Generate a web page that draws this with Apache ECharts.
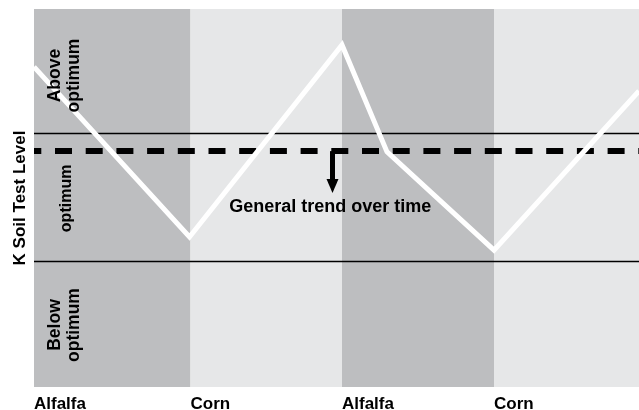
<!DOCTYPE html>
<html><head><meta charset="utf-8">
<script src="https://cdn.jsdelivr.net/npm/echarts@6/dist/echarts.min.js"></script>
<style>html,body{margin:0;padding:0;background:#fff}#c{width:639px;height:410px}</style>
</head><body><div id="c"></div>
<script>
// ---- data ----
const crops = ['Alfalfa', 'Corn', 'Alfalfa', 'Corn'];
const bandEdges = [0, 156.5, 308, 460, 605];          // time units
const trendTime = [0, 155.5, 308, 353, 460, 605];
const trendLevel = [84.7, 39.7, 90.5, 62.2, 36.2, 78.3];
const optimumLimits = [33.2, 67];
const generalTrendLevel = 62.4;
const arrowTime = 298.5;
const arrowEndLevel = 53.2;
const zoneNames = ['Above\noptimum', 'optimum', 'Below\noptimum'];
const trendText = 'General trend over time';
const yTitle = 'K Soil Test Level';

const FONT = '"Liberation Sans", Arial, Helvetica, sans-serif';
const bandColors = ['#bdbec0', '#e6e7e8'];

const chart = echarts.init(document.getElementById('c'), null, {renderer: 'canvas'});

const bandAreas = crops.map((c, i) => [
  {xAxis: bandEdges[i], yAxis: 0, itemStyle: {color: bandColors[i % 2]}},
  {xAxis: bandEdges[i + 1], yAxis: 100}
]);

const zonePos = [[31, 82.4, 17.5], [32.5, 49.9, 16], [31, 16.4, 17.5]];

const option = {
  animation: false,
  backgroundColor: '#fff',
  grid: {left: 34, right: 0, top: 9, bottom: 23, containLabel: false, outerBoundsMode: 'none'},
  xAxis: {
    type: 'value', min: 0, max: 605,
    axisLine: {show: false}, axisTick: {show: false}, splitLine: {show: false},
    axisLabel: {
      customValues: bandEdges.slice(0, crops.length),
      formatter: (v) => crops[bandEdges.indexOf(v)] || '',
      align: 'left', margin: 9,
      fontFamily: FONT, fontWeight: 'bold', fontSize: 17, color: '#000'
    }
  },
  yAxis: {
    type: 'value', min: 0, max: 100,
    axisLine: {show: false}, axisTick: {show: false}, splitLine: {show: false},
    axisLabel: {show: false},
    name: yTitle, nameLocation: 'middle', nameGap: 5,
    nameTextStyle: {fontFamily: FONT, fontWeight: 'bold', fontSize: 17, color: '#000'}
  },
  series: [
    {
      type: 'line', data: [], silent: true,
      markArea: {silent: true, z: 1, data: bandAreas}
    },
    {
      type: 'line', data: [], silent: true,
      markLine: {
        silent: true, z: 3, symbol: 'none', label: {show: false},
        data: [
          {yAxis: optimumLimits[0], lineStyle: {color: '#000', width: 1.3, type: 'solid'}},
          {yAxis: optimumLimits[1], lineStyle: {color: '#000', width: 1.3, type: 'solid'}},
          {yAxis: generalTrendLevel, lineStyle: {color: '#000', width: 6, type: [17, 13.7], dashOffset: 9.7}}
        ]
      }
    },
    {
      type: 'line', data: [], silent: true,
      markLine: {
        silent: true, z: 3, symbol: ['none', 'triangle'], symbolSize: [12, 14],
        label: {show: false},
        lineStyle: {color: '#000', width: 5, type: 'solid'},
        itemStyle: {color: '#000'},
        data: [[{coord: [arrowTime, generalTrendLevel]}, {coord: [arrowTime, arrowEndLevel]}]]
      }
    },
    {
      type: 'line', z: 5, silent: true, symbol: 'none',
      data: trendTime.map((t, i) => [t, trendLevel[i]]),
      lineStyle: {color: '#fff', width: 5, join: 'miter'}
    },
    {
      type: 'line', data: [], silent: true, z: 8,
      markPoint: {
        silent: true, z: 10, symbol: 'rect', symbolSize: 1, itemStyle: {color: 'rgba(0,0,0,0)'},
        data: zoneNames.map((n, i) => ({
          coord: [zonePos[i][0], zonePos[i][1]], value: n,
          label: {show: true, position: 'inside', rotate: 90, formatter: n,
            fontFamily: FONT, fontWeight: 'bold', fontSize: zonePos[i][2], lineHeight: 19,
            color: '#000', align: 'center', verticalAlign: 'middle'}
        })).concat([{
          coord: [195.3, 47.6], value: trendText,
          label: {show: true, position: 'inside', formatter: trendText,
            fontFamily: FONT, fontWeight: 'bold', fontSize: 18, color: '#000',
            align: 'left', verticalAlign: 'middle'}
        }])
      }
    }
  ]
};
chart.setOption(option);
</script>
</body></html>
